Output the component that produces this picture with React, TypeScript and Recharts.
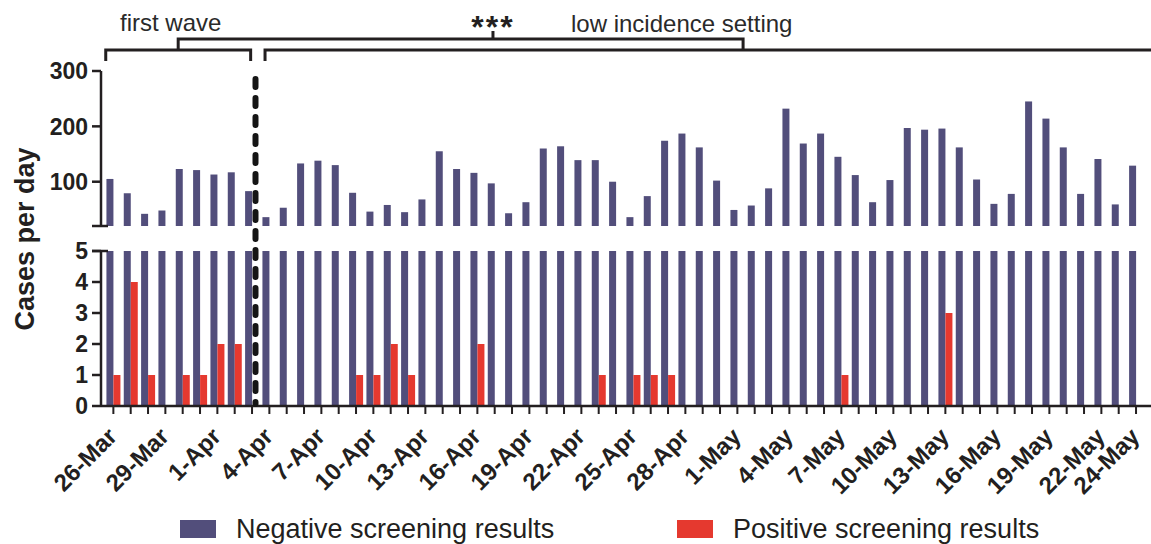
import React from 'react';
import { BarChart, Bar, XAxis, YAxis, Legend } from 'recharts';

const dates = [
  '26-Mar', '27-Mar', '28-Mar', '29-Mar', '30-Mar', '31-Mar',
  '1-Apr', '2-Apr', '3-Apr', '4-Apr', '5-Apr', '6-Apr', '7-Apr', '8-Apr', '9-Apr', '10-Apr',
  '11-Apr', '12-Apr', '13-Apr', '14-Apr', '15-Apr', '16-Apr', '17-Apr', '18-Apr', '19-Apr', '20-Apr',
  '21-Apr', '22-Apr', '23-Apr', '24-Apr', '25-Apr', '26-Apr', '27-Apr', '28-Apr', '29-Apr', '30-Apr',
  '1-May', '2-May', '3-May', '4-May', '5-May', '6-May', '7-May', '8-May', '9-May', '10-May',
  '11-May', '12-May', '13-May', '14-May', '15-May', '16-May', '17-May', '18-May', '19-May', '20-May',
  '21-May', '22-May', '23-May', '24-May',
];

const negative = [
  105, 79, 42, 48, 123, 121, 113, 117, 83, 36,
  53, 133, 138, 130, 80, 46, 58, 45, 68, 155,
  123, 116, 97, 43, 63, 160, 164, 139, 139, 100,
  36, 74, 174, 187, 162, 102, 49, 57, 88, 232,
  169, 187, 145, 112, 63, 103, 197, 194, 196, 162,
  104, 60, 78, 245, 214, 162, 78, 141, 59, 129,
];

const positive = [
  1, 4, 1, 0, 1, 1, 2, 2, 0, 0,
  0, 0, 0, 0, 1, 1, 2, 1, 0, 0,
  0, 2, 0, 0, 0, 0, 0, 0, 1, 0,
  1, 1, 1, 0, 0, 0, 0, 0, 0, 0,
  0, 0, 1, 0, 0, 0, 0, 0, 3, 0,
  0, 0, 0, 0, 0, 0, 0, 0, 0, 0,
];

const labelledDates = [
  '26-Mar', '29-Mar', '1-Apr', '4-Apr', '7-Apr', '10-Apr', '13-Apr', '16-Apr', '19-Apr', '22-Apr',
  '25-Apr', '28-Apr', '1-May', '4-May', '7-May', '10-May', '13-May', '16-May', '19-May', '22-May', '24-May',
];

const topTicks = [100, 200, 300];
const bottomTicks = [0, 1, 2, 3, 4, 5];

const W = 1151;
const H = 544;
const AXIS_X = 101;
const PAD_L = 3.7;
const PAD_R = 6.3;
const BAND = (W - AXIS_X - PAD_L - PAD_R) / dates.length;
const bandX = (u: number) => AXIS_X + PAD_L + u * BAND;

const NEG = '#524e7b';
const POS = '#e5392f';
const INK = '#231f20';
const FONT = 'Arial, "Liberation Sans", Helvetica, sans-serif';

const data = dates.map((d, i) => ({ date: d, neg: negative[i], pos: positive[i] }));

const yTick = { fill: INK, fontSize: 23, fontWeight: 'bold', fontFamily: FONT };

const DateTick = (props: any) => {
  const { x, y, payload } = props;
  if (!labelledDates.includes(payload.value)) return <g />;
  const ax = x + 5;
  const ay = y + 22;
  return (
    <text
      x={ax}
      y={ay}
      transform={`rotate(-45 ${ax} ${ay})`}
      textAnchor="end"
      fontFamily={FONT}
      fontWeight="bold"
      fontSize={24}
      fill={INK}
    >
      {payload.value}
    </text>
  );
};

const legendLeft = [180, 677];

const renderLegend = (props: any) => {
  const items = props.payload || [];
  return (
    <div style={{ position: 'relative', height: 48 }}>
      {items.map((it: any, k: number) => (
        <div
          key={it.value}
          style={{ position: 'absolute', left: legendLeft[k], top: 20, display: 'flex', alignItems: 'center', height: 26 }}
        >
          <span style={{ display: 'inline-block', width: 36, height: 18, background: it.color, marginRight: 20 }} />
          <span style={{ fontFamily: FONT, fontSize: 27, color: INK, whiteSpace: 'nowrap' }}>{it.value}</span>
        </div>
      ))}
    </div>
  );
};

const Overlay = () => {
  const fw0 = bandX(0.06);
  const fw1 = bandX(8.42);
  const li0 = bandX(9.25);
  const fwMid = (fw0 + fw1) / 2;
  const liMid = bandX(36.83);
  const star = bandX(22.4);
  const dash = bandX(8.7);
  return (
    <svg width={W} height={H} style={{ position: 'absolute', left: 0, top: 0, pointerEvents: 'none' }}>
      <g stroke={INK} strokeWidth={3} fill="none">
        <path d={`M${fw0} 61 V50 H${fw1} V61`} />
        <path d={`M${li0} 61 V50 H${W}`} />
        <path d={`M${fwMid} 50 V39 H${liMid} V50`} />
        <path d={`M${star} 39 V31`} />
      </g>
      <g stroke={INK} strokeWidth={2.5}>
        <line x1={92} x2={108} y1={226} y2={226} />
        <line x1={92} x2={108} y1={251} y2={251} />
      </g>
      <line x1={dash} x2={dash} y1={79} y2={404} stroke="#151515" strokeWidth={6} strokeDasharray="8 11" strokeLinecap="round" />
      <text x={120} y={31} fontFamily={FONT} fontSize={24} fill="#2a2a2a">first wave</text>
      <text x={571} y={32} fontFamily={FONT} fontSize={24} fill="#2a2a2a">low incidence setting</text>
      <text x={star} y={38} textAnchor="middle" fontFamily={FONT} fontSize={32} fontWeight="bold" letterSpacing={2} fill={INK}>***</text>
      <text
        x={34}
        y={239}
        transform="rotate(-90 34 239)"
        textAnchor="middle"
        fontFamily={FONT}
        fontSize={27}
        fontWeight="bold"
        fill={INK}
      >
        Cases per day
      </text>
    </svg>
  );
};

export default function App() {
  return (
    <div style={{ position: 'absolute', left: 0, top: 0, width: W, height: H, background: '#fff', overflow: 'hidden' }}>
      <div style={{ position: 'absolute', left: 0, top: 0 }}>
        <BarChart width={W} height={240} data={data} margin={{ top: 71, right: 0, left: 0, bottom: 14 }} barCategoryGap="10%" barGap={0}>
          <XAxis dataKey="date" hide padding={{ left: PAD_L, right: PAD_R }} />
          <YAxis
            width={AXIS_X}
            domain={[20, 300]}
            ticks={topTicks}
            interval={0}
            allowDataOverflow
            tickSize={9}
            tickMargin={4}
            axisLine={{ stroke: INK, strokeWidth: 2.5 }}
            tickLine={{ stroke: INK, strokeWidth: 2.5 }}
            tick={yTick}
          />
          <Bar dataKey="neg" fill={NEG} isAnimationActive={false} />
          <Bar dataKey="pos" fill="none" isAnimationActive={false} />
        </BarChart>
      </div>
      <div style={{ position: 'absolute', left: 0, top: 200 }}>
        <BarChart width={W} height={344} data={data} margin={{ top: 51, right: 0, left: 0, bottom: 0 }} barCategoryGap="10%" barGap={0}>
          <XAxis
            dataKey="date"
            interval={0}
            height={90}
            padding={{ left: PAD_L, right: PAD_R }}
            tickSize={8}
            tick={<DateTick />}
            axisLine={{ stroke: INK, strokeWidth: 2.5 }}
            tickLine={{ stroke: INK, strokeWidth: 2 }}
          />
          <YAxis
            width={AXIS_X}
            domain={[0, 5]}
            ticks={bottomTicks}
            interval={0}
            allowDataOverflow
            tickSize={9}
            tickMargin={4}
            axisLine={{ stroke: INK, strokeWidth: 2.5 }}
            tickLine={{ stroke: INK, strokeWidth: 2.5 }}
            tick={yTick}
          />
          <Legend verticalAlign="bottom" height={48} content={renderLegend} />
          <Bar dataKey="neg" name="Negative screening results" fill={NEG} isAnimationActive={false} />
          <Bar dataKey="pos" name="Positive screening results" fill={POS} isAnimationActive={false} />
        </BarChart>
      </div>
      <Overlay />
    </div>
  );
}
